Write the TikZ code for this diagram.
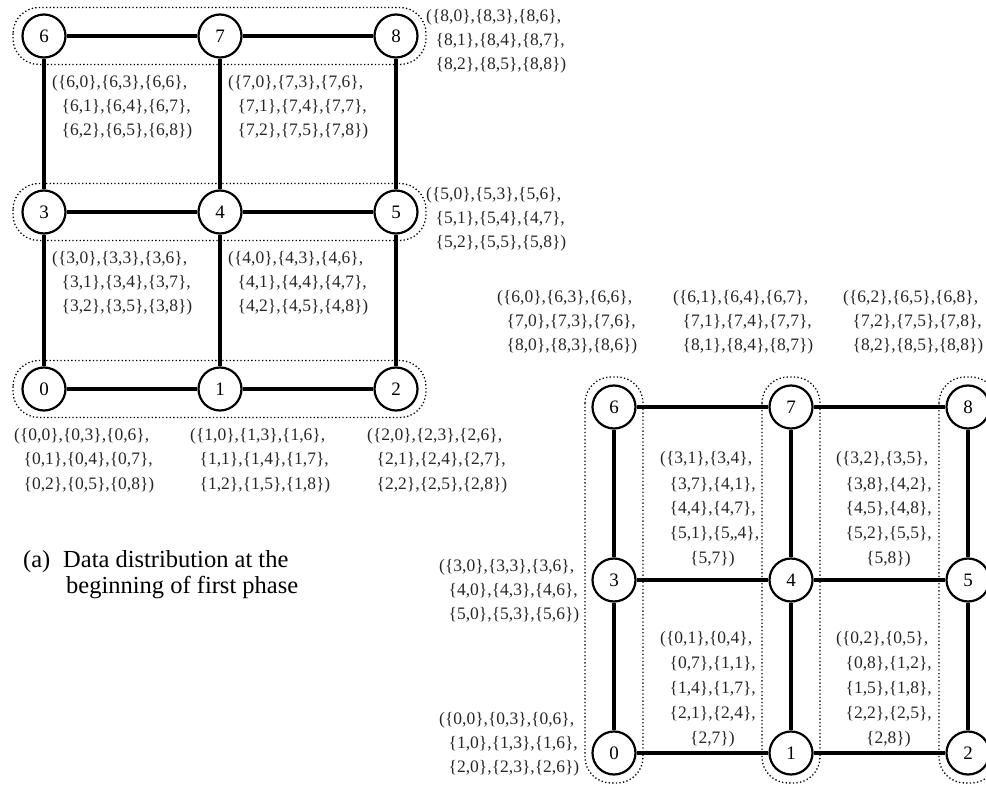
\documentclass[tikz,border=0pt]{standalone}
\usepackage{fontspec}
\setmainfont{Liberation Serif}
\newcommand\pr[2]{\{#1,#2\}}
\newcommand\ind{\hspace*{9.5pt}}
\newcommand\tlbl[1]{\begin{tabular}[t]{@{}l@{}}#1\end{tabular}}
\tikzset{
  vtx/.style={circle, draw, line width=2.2pt, minimum size=43pt, inner sep=0pt,
    font=\fontsize{19}{19}\selectfont},
  edge/.style={line width=3.2pt},
  dotbox/.style={line width=1.3pt, dash pattern=on 1.3pt off 2.3pt, rounded corners=26pt},
  lbl/.style={anchor=base west, inner sep=0pt, text=black!85,
    font=\fontsize{17.5}{24}\selectfont},
  cellbl/.style={lbl, font=\fontsize{17.5}{25}\selectfont},
  captext/.style={anchor=base west, inner sep=0pt, font=\fontsize{24.5}{26}\selectfont}
}
\begin{document}
\begin{tikzpicture}[x=1pt,y=-1pt]
\useasboundingbox (0,0) rectangle (986,786);

% ---------- left grid: dotted row groups ----------
\draw[dotbox] (13,7.5) rectangle (426,64.5);
\draw[dotbox] (13,183.5) rectangle (426,240.5);
\draw[dotbox] (13,360.5) rectangle (426,417.5);

% left grid nodes
\node[vtx] (L6) at (44,36) {6};
\node[vtx] (L7) at (220,36) {7};
\node[vtx] (L8) at (396,36) {8};
\node[vtx] (L3) at (44,212) {3};
\node[vtx] (L4) at (220,212) {4};
\node[vtx] (L5) at (396,212) {5};
\node[vtx] (L0) at (44,389) {0};
\node[vtx] (L1) at (220,389) {1};
\node[vtx] (L2) at (396,389) {2};

\draw[edge] (L6) -- (L7); \draw[edge] (L7) -- (L8);
\draw[edge] (L3) -- (L4); \draw[edge] (L4) -- (L5);
\draw[edge] (L0) -- (L1); \draw[edge] (L1) -- (L2);
\draw[edge] (L6) -- (L3); \draw[edge] (L3) -- (L0);
\draw[edge] (L7) -- (L4); \draw[edge] (L4) -- (L1);
\draw[edge] (L8) -- (L5); \draw[edge] (L5) -- (L2);

% left grid labels
\node[lbl] (lc6) at (52,88) {\tlbl{(\pr60,\pr63,\pr66,\\ \ind\pr61,\pr64,\pr67,\\ \ind\pr62,\pr65,\pr68)}};
\node[lbl] (lc7) at (228,88) {\tlbl{(\pr70,\pr73,\pr76,\\ \ind\pr71,\pr74,\pr77,\\ \ind\pr72,\pr75,\pr78)}};
\node[lbl] (lc3) at (52,264) {\tlbl{(\pr30,\pr33,\pr36,\\ \ind\pr31,\pr34,\pr37,\\ \ind\pr32,\pr35,\pr38)}};
\node[lbl] (lc4) at (228,264) {\tlbl{(\pr40,\pr43,\pr46,\\ \ind\pr41,\pr44,\pr47,\\ \ind\pr42,\pr45,\pr48)}};
\node[lbl] (lb0) at (14,441) {\tlbl{(\pr00,\pr03,\pr06,\\ \ind\pr01,\pr04,\pr07,\\ \ind\pr02,\pr05,\pr08)}};
\node[lbl] (lb1) at (190,441) {\tlbl{(\pr10,\pr13,\pr16,\\ \ind\pr11,\pr14,\pr17,\\ \ind\pr12,\pr15,\pr18)}};
\node[lbl] (lb2) at (367,441) {\tlbl{(\pr20,\pr23,\pr26,\\ \ind\pr21,\pr24,\pr27,\\ \ind\pr22,\pr25,\pr28)}};
\node[lbl] (lr8) at (426,22) {\tlbl{(\pr80,\pr83,\pr86,\\ \ind\pr81,\pr84,\pr87,\\ \ind\pr82,\pr85,\pr88)}};
\node[lbl] (lr5) at (426,200) {\tlbl{(\pr50,\pr53,\pr56,\\ \ind\pr51,\pr54,\pr47,\\ \ind\pr52,\pr55,\pr58)}};

% caption
\node[captext] (caption) at (23,567) {\tlbl{\makebox[40pt][l]{(a)}Data distribution at the\\ \hspace*{43pt}beginning of first phase}};

% ---------- right grid: dotted column groups ----------
\draw[dotbox] (585,377) rectangle (643,783);
\draw[dotbox] (762,377) rectangle (820,783);
\draw[dotbox] (939,377) rectangle (997,783);

\node[vtx] (R6) at (614,407) {6};
\node[vtx] (R7) at (791,407) {7};
\node[vtx] (R8) at (968,407) {8};
\node[vtx] (R3) at (614,580) {3};
\node[vtx] (R4) at (791,580) {4};
\node[vtx] (R5) at (968,580) {5};
\node[vtx] (R0) at (614,753) {0};
\node[vtx] (R1) at (791,753) {1};
\node[vtx] (R2) at (968,753) {2};

\draw[edge] (R6) -- (R7); \draw[edge] (R7) -- (R8);
\draw[edge] (R3) -- (R4); \draw[edge] (R4) -- (R5);
\draw[edge] (R0) -- (R1); \draw[edge] (R1) -- (R2);
\draw[edge] (R6) -- (R3); \draw[edge] (R3) -- (R0);
\draw[edge] (R7) -- (R4); \draw[edge] (R4) -- (R1);
\draw[edge] (R8) -- (R5); \draw[edge] (R5) -- (R2);

% right grid labels
\node[lbl] (rt6) at (497,303) {\tlbl{(\pr60,\pr63,\pr66,\\ \ind\pr70,\pr73,\pr76,\\ \ind\pr80,\pr83,\pr86)}};
\node[lbl] (rt7) at (673,303) {\tlbl{(\pr61,\pr64,\pr67,\\ \ind\pr71,\pr74,\pr77,\\ \ind\pr81,\pr84,\pr87)}};
\node[lbl] (rt8) at (843,303) {\tlbl{(\pr62,\pr65,\pr68,\\ \ind\pr72,\pr75,\pr78,\\ \ind\pr82,\pr85,\pr88)}};
\node[lbl] (rw3) at (439,571) {\tlbl{(\pr30,\pr33,\pr36,\\ \ind\pr40,\pr43,\pr46,\\ \ind\pr50,\pr53,\pr56)}};
\node[lbl] (rw0) at (439,724) {\tlbl{(\pr00,\pr03,\pr06,\\ \ind\pr10,\pr13,\pr16,\\ \ind\pr20,\pr23,\pr26)}};

\node[cellbl] (rk1) at (660,464) {\tlbl{(\pr31,\pr34,\\ \ind\pr37,\pr41,\\ \ind\pr44,\pr47,\\ \ind\pr51,\{5,,4\},\\ \hspace*{30pt}\pr57)}};
\node[cellbl] (rk2) at (836,464) {\tlbl{(\pr32,\pr35,\\ \ind\pr38,\pr42,\\ \ind\pr45,\pr48,\\ \ind\pr52,\pr55,\\ \hspace*{30pt}\pr58)}};
\node[cellbl] (rk3) at (660,643) {\tlbl{(\pr01,\pr04,\\ \ind\pr07,\pr11,\\ \ind\pr14,\pr17,\\ \ind\pr21,\pr24,\\ \hspace*{30pt}\pr27)}};
\node[cellbl] (rk4) at (836,643) {\tlbl{(\pr02,\pr05,\\ \ind\pr08,\pr12,\\ \ind\pr15,\pr18,\\ \ind\pr22,\pr25,\\ \hspace*{30pt}\pr28)}};
\end{tikzpicture}
\end{document}
